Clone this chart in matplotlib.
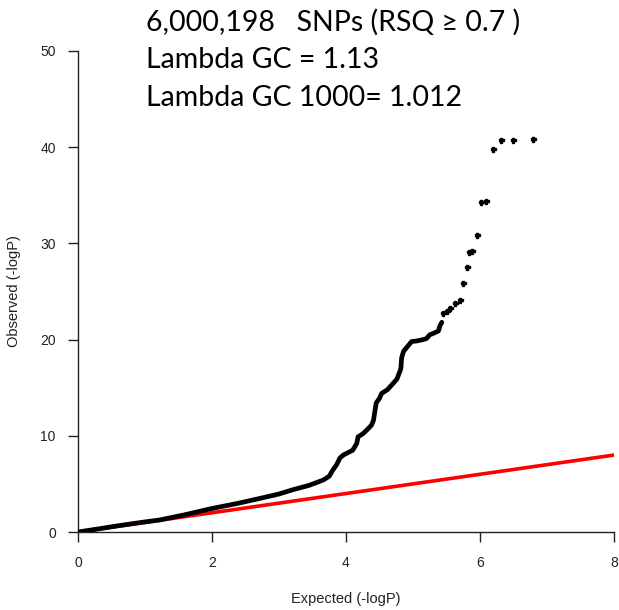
import matplotlib
matplotlib.use("Agg")
import matplotlib.pyplot as plt

# Dense part of the QQ curve (expected, observed)
dense_expected = [0.0, 0.3, 0.6, 1.0, 1.22, 1.6, 1.97, 2.4, 2.72, 3.0, 3.21, 3.45, 3.66, 3.75, 3.8, 3.86, 3.91, 3.96,
                  4.1, 4.16, 4.18, 4.25, 4.31, 4.38, 4.41, 4.43, 4.45, 4.5, 4.53, 4.62, 4.71, 4.76, 4.81, 4.82, 4.83,
                  4.86, 4.92, 4.98, 5.05, 5.15, 5.2, 5.25, 5.32, 5.38, 5.4, 5.43]
dense_observed = [0.0, 0.32, 0.65, 1.05, 1.25, 1.8, 2.4, 3.0, 3.5, 3.95, 4.4, 4.85, 5.4, 5.8, 6.4, 7.0, 7.7, 8.0,
                  8.5, 9.2, 9.9, 10.2, 10.6, 11.1, 11.6, 12.5, 13.4, 13.9, 14.4, 14.8, 15.5, 15.9, 16.8, 17.05, 18.1,
                  18.8, 19.3, 19.8, 19.85, 20.0, 20.1, 20.5, 20.7, 20.9, 21.4, 21.8]

# Sparse top points
top_expected = [5.45, 5.5, 5.55, 5.62, 5.7, 5.75, 5.80, 5.83, 5.88, 5.95, 6.01, 6.09, 6.2, 6.31, 6.49, 6.79]
top_observed = [22.8, 23.0, 23.3, 23.8, 24.1, 25.9, 27.5, 29.1, 29.2, 30.9, 34.3, 34.4, 39.8, 40.7, 40.7, 40.85]

null_line = [0, 8]

title_lines = ["6,000,198   SNPs (RSQ \u2265 0.7 )", "Lambda GC = 1.13", "Lambda GC 1000= 1.012"]
x_ticks = [0, 2, 4, 6, 8]
y_ticks = [0, 10, 20, 30, 40, 50]

fig = plt.figure(figsize=(6.19, 6.10), dpi=100)
ax = fig.add_axes([78 / 619, (610 - 532) / 610, (614 - 78) / 619, (532 - 51) / 610])

ax.plot(null_line, null_line, color="#ff0000", lw=2.6, solid_capstyle="butt", zorder=2)
ax.plot(dense_expected, dense_observed, color="black", lw=3.4, solid_capstyle="round", zorder=3)
ax.plot(top_expected, top_observed, linestyle="none", marker="P", markersize=3.6, color="black", zorder=4)

ax.set_xlim(0, 8)
ax.set_ylim(0, 50)
ax.set_xticks(x_ticks)
ax.set_yticks(y_ticks)
for s in ["top", "right"]:
    ax.spines[s].set_visible(False)
for s in ["left", "bottom"]:
    ax.spines[s].set_linewidth(1.0)
    ax.spines[s].set_color("#222222")
ax.tick_params(axis="both", direction="out", length=7, width=1.0, color="#222222",
               labelsize=10, labelcolor="#222222")
ax.tick_params(axis="x", pad=10)
ax.tick_params(axis="y", pad=9)
for lab in ax.get_xticklabels() + ax.get_yticklabels():
    lab.set_family("Liberation Sans")

ax.set_xlabel("Expected (-logP)", fontsize=10.5, family="Liberation Sans", color="#222222", labelpad=16)
ax.set_ylabel("Observed (-logP)", fontsize=10.5, family="Liberation Sans", color="#222222", labelpad=14)

baselines = [31, 68, 106]
for txt, yb in zip(title_lines, baselines):
    fig.text(146 / 619, 1 - yb / 610, txt, fontsize=20.5, family=["Lato", "DejaVu Sans"],
             va="baseline", ha="left", color="black")

fig.savefig("out.png", dpi=100)
